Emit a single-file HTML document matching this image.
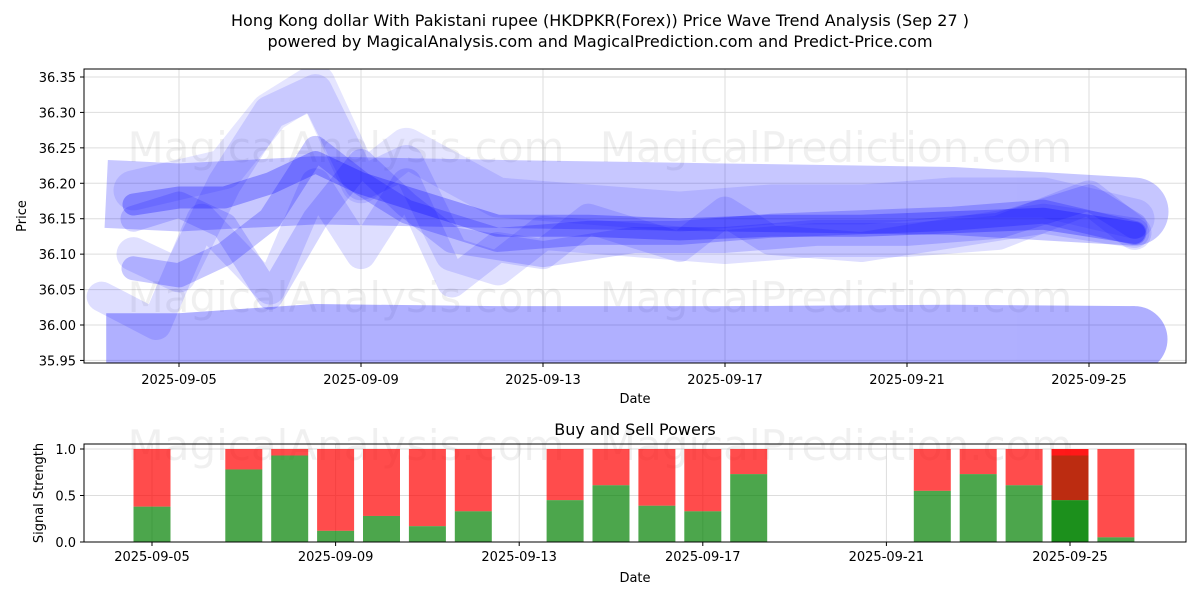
<!DOCTYPE html>
<html><head><meta charset="utf-8"><style>
body{margin:0;background:#fff;font-family:"Liberation Sans","DejaVu Sans",sans-serif}
svg text{font-family:"DejaVu Sans","Liberation Sans",sans-serif}
</style></head><body>
<svg id="c" width="1200" height="600" viewBox="0 0 1200 600" xmlns="http://www.w3.org/2000/svg">
<text x="600" y="26" font-size="16" text-anchor="middle">Hong Kong dollar With Pakistani rupee (HKDPKR(Forex)) Price Wave Trend Analysis (Sep 27 )</text>
<text x="600" y="47" font-size="16" text-anchor="middle">powered by MagicalAnalysis.com and MagicalPrediction.com and Predict-Price.com</text>
<g id="topg"></g>
<g id="botg"></g>
</svg>
<script>
// ---- price panel data ----
const priceTicks=[35.95,36.00,36.05,36.10,36.15,36.20,36.25,36.30,36.35];
const dateTicks=[5,9,13,17,21,25];
const bandLowDays=[3.4,5,8,12,17,22,26];
const bandLowVals=[35.97,35.97,35.983,35.98,35.98,35.982,35.98];
const bandHighDays=[3.4,5,8,12,17,22,26];
const bandHighVals=[36.185,36.18,36.19,36.185,36.18,36.175,36.16];
const waveA=[[4,5,6,7,8,9,10,11,12,14,16,18,20,22,24,26],[36.17,36.18,36.18,36.2,36.23,36.2,36.18,36.16,36.14,36.14,36.135,36.14,36.14,36.145,36.15,36.13]];
const waveB=[[4,5,6,7,8,9,10,11,12,14,16,18,20,22,24,26],[36.08,36.07,36.1,36.15,36.25,36.2,36.16,36.14,36.12,36.13,36.13,36.14,36.145,36.15,36.16,36.13]];
const waveC=[[3.3,4.5,5.5,7,8,9,10,11,12,13,14,15,16,17,18,20,22,24,26],[36.04,36.0,36.15,36.05,36.2,36.1,36.2,36.06,36.11,36.1,36.15,36.13,36.11,36.16,36.12,36.11,36.13,36.15,36.13]];
const waveD=[[4,5,6,7,8,9,10,11,12,13,15,17,19,21,23,25,26],[36.1,36.07,36.2,36.3,36.33,36.2,36.23,36.1,36.08,36.13,36.12,36.11,36.12,36.12,36.13,36.18,36.13]];
const waveE=[[4,5,6,7,8,9,10,11,13,15,17,19,21,23,25,26],[36.15,36.17,36.14,36.04,36.15,36.23,36.17,36.12,36.1,36.12,36.12,36.13,36.13,36.14,36.18,36.14]];
const waveF=[[4,6,7,8,9,10,12,14,16,18,20,22,24,26],[36.19,36.22,36.3,36.34,36.2,36.25,36.18,36.17,36.16,36.17,36.17,36.18,36.18,36.15]];
// ---- power panel data ----
const barDays=[5,7,8,9,10,11,12,14,15,16,17,18,22,23,24,25,26];
const buyVals=[0.38,0.78,0.93,0.12,0.28,0.17,0.33,0.45,0.61,0.39,0.33,0.73,0.55,0.73,0.61,0.45,0.05];
const strengthTicks=[0.0,0.5,1.0];

const NS="http://www.w3.org/2000/svg";
function mk(p,t,a){const e=document.createElementNS(NS,t);for(const k in a)e.setAttribute(k,a[k]);p.appendChild(e);return e;}
const topG=document.getElementById('topg'),botG=document.getElementById('botg');
const L=84,R=1186,T1=69,B1=363;
const x1=d=>179+(d-5)*45.5;
const y1=p=>325-(p-36.0)*708.6;
priceTicks.forEach(p=>{const g=mk(topG,'line',{x1:L,x2:R,y1:y1(p),y2:y1(p),stroke:'#ddd','stroke-width':1});

const t=mk(topG,'text',{x:L-8,y:y1(p)+5,'font-size':13,'text-anchor':'end'});t.textContent=p.toFixed(2);

mk(topG,'line',{x1:L-4,x2:L,y1:y1(p),y2:y1(p),stroke:'#000'});});
dateTicks.forEach(d=>{mk(topG,'line',{x1:x1(d),x2:x1(d),y1:T1,y2:B1,stroke:'#ddd'});
mk(topG,'line',{x1:x1(d),x2:x1(d),y1:B1,y2:B1+4,stroke:'#000'});
const t=mk(topG,'text',{x:x1(d),y:B1+21,'font-size':13,'text-anchor':'middle'});t.textContent='2025-09-'+String(d).padStart(2,'0');
});
[[346,162],[836,162],[346,312],[836,312]].forEach((w,i)=>{const t=mk(topG,'text',{x:w[0],y:w[1],'font-size':42,'text-anchor':'middle',fill:'#000','fill-opacity':0.06});t.textContent=i%2?'MagicalPrediction.com':'MagicalAnalysis.com';
});
const cp=mk(topG,'clipPath',{id:'cp1'});mk(cp,'rect',{x:L,y:T1,width:R-L,height:B1-T1});
const wg=mk(topG,'g',{'clip-path':'url(#cp1)'});
function pl(par,days,vals,w,op,name,cap){const pts=days.map((d,i)=>x1(d)+','+y1(vals[i])).join(' ');
const e=mk(par,'polyline',{points:pts,fill:'none',stroke:'#0000ff','stroke-opacity':op,'stroke-width':w,'stroke-linejoin':'round','stroke-linecap':cap||'round'});
}
const gLow=mk(wg,'g',{opacity:0.31});
pl(gLow,bandLowDays,bandLowVals,66,1,'wave-band-low','butt');
mk(gLow,'circle',{cx:x1(26),cy:y1(bandLowVals[bandLowVals.length-1]),r:33,fill:'#0000ff'});
const gHigh=mk(wg,'g',{opacity:0.22});
pl(gHigh,bandHighDays,bandHighVals,68,1,'wave-band-high','butt');
mk(gHigh,'circle',{cx:x1(26),cy:y1(bandHighVals[bandHighVals.length-1]),r:34,fill:'#0000ff'});
pl(wg,waveF[0],waveF[1],40,0.1,'wave-f');
pl(wg,waveD[0],waveD[1],34,0.12,'wave-d');
pl(wg,waveC[0],waveC[1],30,0.13,'wave-c');
pl(wg,waveE[0],waveE[1],26,0.16,'wave-e');
pl(wg,waveB[0],waveB[1],24,0.22,'wave-b');
pl(wg,waveA[0],waveA[1],22,0.28,'wave-a');
mk(topG,'rect',{x:L,y:T1,width:R-L,height:B1-T1,fill:'none',stroke:'#000'});
let tt=mk(topG,'text',{x:635,y:403,'font-size':13,'text-anchor':'middle'});tt.textContent='Date';

tt=mk(topG,'text',{x:26,y:216,'font-size':13,'text-anchor':'middle',transform:'rotate(-90 26 216)'});tt.textContent='Price';


const T2=444,B2=542;
const x2=d=>152+(d-5)*45.9;
const y2=v=>542-v*93;
strengthTicks.forEach(v=>{mk(botG,'line',{x1:L,x2:R,y1:y2(v),y2:y2(v),stroke:'#ddd'});
mk(botG,'line',{x1:L-4,x2:L,y1:y2(v),y2:y2(v),stroke:'#000'});
const t=mk(botG,'text',{x:L-8,y:y2(v)+5,'font-size':13,'text-anchor':'end'});t.textContent=v.toFixed(1);
});
[5,9,13,17,21,25].forEach(d=>{mk(botG,'line',{x1:x2(d),x2:x2(d),y1:T2,y2:B2,stroke:'#ddd'});
mk(botG,'line',{x1:x2(d),x2:x2(d),y1:B2,y2:B2+4,stroke:'#000'});
const t=mk(botG,'text',{x:x2(d),y:B2+19,'font-size':13,'text-anchor':'middle'});t.textContent='2025-09-'+String(d).padStart(2,'0');
});
[[346,460],[836,460]].forEach((w,i)=>{const t=mk(botG,'text',{x:w[0],y:w[1],'font-size':42,'text-anchor':'middle',fill:'#000','fill-opacity':0.06});t.textContent=i?'MagicalPrediction.com':'MagicalAnalysis.com';
});
barDays.forEach((d,i)=>{const bw=37,xx=x2(d)-bw/2,v=buyVals[i];const last=d===25;
const r=mk(botG,'rect',{x:xx,y:y2(1),width:bw,height:y2(v)-y2(1),fill:'#ff0000','fill-opacity':last?0.9:0.7});

if(last){mk(botG,'rect',{x:xx,y:y2(0.93),width:bw,height:y2(v)-y2(0.93),fill:'#b03010','fill-opacity':0.85});}
const g=mk(botG,'rect',{x:xx,y:y2(v),width:bw,height:y2(0)-y2(v),fill:last?'#108a10':'#008000','fill-opacity':last?0.95:0.7});
});
mk(botG,'rect',{x:L,y:T2,width:R-L,height:B2-T2,fill:'none',stroke:'#000'});
tt=mk(botG,'text',{x:635,y:435,'font-size':16,'text-anchor':'middle'});tt.textContent='Buy and Sell Powers';

tt=mk(botG,'text',{x:635,y:582,'font-size':13,'text-anchor':'middle'});tt.textContent='Date';

tt=mk(botG,'text',{x:43,y:493,'font-size':13,'text-anchor':'middle',transform:'rotate(-90 43 493)'});tt.textContent='Signal Strength';

</script>
</body></html>
